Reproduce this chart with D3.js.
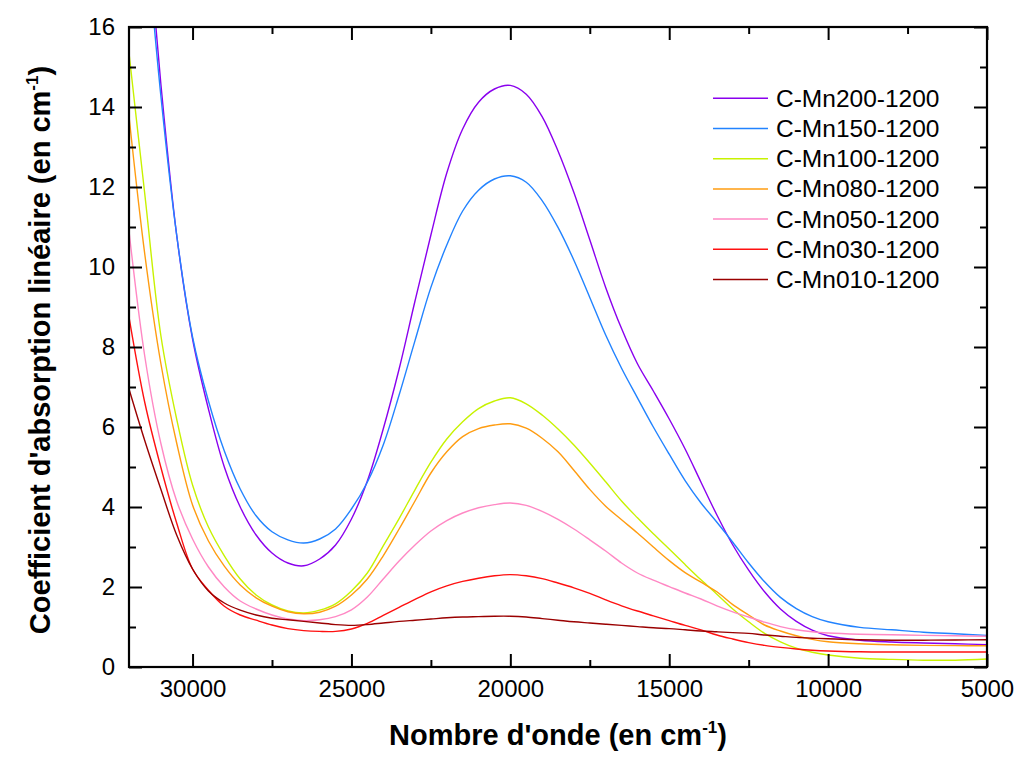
<!DOCTYPE html>
<html>
<head>
<meta charset="utf-8">
<script src="https://cdn.jsdelivr.net/npm/d3@7"></script>
<style>
  html, body { margin: 0; padding: 0; background: #fff; }
  svg { display: block; font-family: "Liberation Sans", Arial, sans-serif; }
</style>
</head>
<body>
<svg id="chart" width="1017" height="760"></svg>
<script>
const wavenumbers = [32000,31500,31000,30500,30000,29500,29000,28500,28000,27500,27000,26500,26000,25500,25000,24500,24000,23500,23000,22500,22000,21500,21000,20500,20000,19500,19000,18500,18000,17500,17000,16500,16000,15500,15000,14500,14000,13500,13000,12500,12000,11500,11000,10500,10000,9000,8000,7000,6000,5000];

const mn200 = [24.0,19.2,14.6,10.8,8.2,6.45,5.0,4.0,3.3,2.85,2.6,2.53,2.7,3.05,3.7,4.65,5.95,7.45,9.15,10.8,12.35,13.45,14.12,14.45,14.54,14.32,13.76,12.9,11.86,10.68,9.49,8.46,7.58,6.9,6.2,5.45,4.62,3.8,3.05,2.42,1.88,1.45,1.14,0.92,0.78,0.67,0.625,0.6,0.58,0.56];
const mn150 = [23.5,18.7,14.3,10.8,8.25,6.65,5.4,4.45,3.78,3.38,3.18,3.1,3.2,3.45,3.95,4.62,5.55,6.8,8.16,9.49,10.55,11.4,11.92,12.2,12.28,12.12,11.66,10.99,10.17,9.24,8.3,7.47,6.73,6.0,5.32,4.66,4.1,3.62,3.12,2.6,2.13,1.74,1.46,1.26,1.13,0.99,0.93,0.87,0.83,0.79];
const mn100 = [15.35,11.8,8.3,6.2,4.55,3.5,2.78,2.2,1.8,1.55,1.4,1.35,1.42,1.58,1.9,2.35,3.03,3.71,4.43,5.12,5.7,6.13,6.46,6.65,6.73,6.58,6.3,5.95,5.55,5.1,4.63,4.15,3.73,3.33,2.95,2.56,2.18,1.82,1.45,1.13,0.84,0.63,0.47,0.37,0.3,0.22,0.19,0.17,0.17,0.2];
const mn080 = [13.77,10.3,7.6,5.6,4.05,3.15,2.52,2.05,1.73,1.52,1.38,1.33,1.37,1.52,1.8,2.2,2.78,3.45,4.15,4.85,5.38,5.76,5.96,6.05,6.08,5.97,5.72,5.38,4.92,4.44,4.02,3.68,3.35,3.0,2.66,2.36,2.12,1.88,1.56,1.3,1.05,0.9,0.78,0.69,0.63,0.58,0.555,0.54,0.535,0.53];
const mn050 = [10.9,7.75,5.6,4.15,3.2,2.5,2.0,1.65,1.45,1.3,1.2,1.16,1.18,1.26,1.43,1.75,2.2,2.65,3.05,3.4,3.66,3.85,3.98,4.06,4.1,4.04,3.89,3.69,3.45,3.18,2.9,2.6,2.35,2.17,2.01,1.85,1.7,1.53,1.38,1.25,1.12,1.01,0.93,0.88,0.85,0.82,0.805,0.79,0.78,0.77];
const mn030 = [8.75,6.6,5.0,3.6,2.45,1.92,1.52,1.3,1.17,1.05,0.96,0.91,0.89,0.89,0.95,1.09,1.29,1.49,1.69,1.88,2.03,2.14,2.22,2.28,2.31,2.28,2.21,2.1,1.98,1.84,1.68,1.53,1.4,1.28,1.16,1.04,0.93,0.8,0.7,0.61,0.54,0.49,0.45,0.42,0.4,0.38,0.375,0.375,0.375,0.375];
const mn010 = [6.95,5.65,4.45,3.3,2.45,1.9,1.6,1.42,1.3,1.22,1.18,1.14,1.1,1.06,1.04,1.06,1.1,1.14,1.17,1.2,1.23,1.25,1.26,1.27,1.27,1.25,1.21,1.17,1.13,1.1,1.07,1.04,1.01,0.98,0.96,0.93,0.9,0.88,0.86,0.84,0.8,0.77,0.74,0.72,0.705,0.68,0.67,0.67,0.675,0.68];

const seriesNames = ["C-Mn200-1200","C-Mn150-1200","C-Mn100-1200","C-Mn080-1200","C-Mn050-1200","C-Mn030-1200","C-Mn010-1200"];
const seriesValues = [mn200, mn150, mn100, mn080, mn050, mn030, mn010];
const seriesColors = ["#8a00ee","#2283ff","#c8f200","#ff9c10","#ff88c4","#ff1010","#9a0000"];

const xMajorTicks = [30000,25000,20000,15000,10000,5000];
const xMinorTicks = [27500,22500,17500,12500,7500];
const yMajorTicks = [0,2,4,6,8,10,12,14,16];
const yMinorTicks = [1,3,5,7,9,11,13,15];

const xTitle = "Nombre d'onde (en cm";
const yTitle = "Coefficient d'absorption linéaire (en cm";

const L = 129, R = 987, T = 27, B = 667;
const svg = d3.select("#chart");

const x = d3.scaleLinear().domain([32000, 5000]).range([L, R]);
const y = d3.scaleLinear().domain([0, 16]).range([B, T]);

svg.append("defs").append("clipPath").attr("id", "plotclip")
  .append("rect").attr("x", L).attr("y", T).attr("width", R - L).attr("height", B - T);

// lines
const line = d3.line()
  .x(d => x(d[0]))
  .y(d => y(d[1]))
  .curve(d3.curveCatmullRom.alpha(0.5));

const gLines = svg.append("g").attr("clip-path", "url(#plotclip)");
seriesValues.forEach((vals, i) => {
  const pts = wavenumbers.map((w, j) => [w, vals[j]]);
  gLines.append("path")
    .attr("d", line(pts))
    .attr("fill", "none")
    .attr("stroke", seriesColors[i])
    .attr("stroke-width", 1.4);
});

// axes
function styleAxis(g) {
  g.select(".domain").remove();
  g.selectAll(".tick line").attr("stroke", "#000").attr("stroke-width", 2);
  g.selectAll("text").attr("fill", "#000").style("font-size", "24px")
    .style("font-family", "'Liberation Sans', Arial, sans-serif");
}

svg.append("g").attr("transform", `translate(0,${B})`)
  .call(d3.axisBottom(x).tickValues(xMajorTicks).tickSize(-13).tickPadding(13).tickFormat(d3.format("d")))
  .call(styleAxis);
svg.append("g").attr("transform", `translate(0,${B})`)
  .call(d3.axisBottom(x).tickValues(xMinorTicks).tickSize(-7).tickFormat(""))
  .call(styleAxis);
svg.append("g").attr("transform", `translate(0,${T})`)
  .call(d3.axisTop(x).tickValues(xMajorTicks).tickSize(-13).tickFormat(""))
  .call(styleAxis);
svg.append("g").attr("transform", `translate(0,${T})`)
  .call(d3.axisTop(x).tickValues(xMinorTicks).tickSize(-7).tickFormat(""))
  .call(styleAxis);

svg.append("g").attr("transform", `translate(${L},0)`)
  .call(d3.axisLeft(y).tickValues(yMajorTicks).tickSize(-13).tickPadding(14).tickFormat(d3.format("d")))
  .call(styleAxis);
svg.append("g").attr("transform", `translate(${L},0)`)
  .call(d3.axisLeft(y).tickValues(yMinorTicks).tickSize(-7).tickFormat(""))
  .call(styleAxis);
svg.append("g").attr("transform", `translate(${R},0)`)
  .call(d3.axisRight(y).tickValues(yMajorTicks).tickSize(-13).tickFormat(""))
  .call(styleAxis);
svg.append("g").attr("transform", `translate(${R},0)`)
  .call(d3.axisRight(y).tickValues(yMinorTicks).tickSize(-7).tickFormat(""))
  .call(styleAxis);

// frame
svg.append("rect")
  .attr("x", L).attr("y", T).attr("width", R - L).attr("height", B - T)
  .attr("fill", "none").attr("stroke", "#000").attr("stroke-width", 2.2);

// axis titles
const xt = svg.append("text")
  .attr("x", (L + R) / 2).attr("y", 745)
  .attr("text-anchor", "middle")
  .style("font-size", "29px").style("font-weight", "bold");
xt.append("tspan").text(xTitle);
xt.append("tspan").attr("dy", -12).style("font-size", "17px").text("-1");
xt.append("tspan").attr("dy", 12).text(")");

const yt = svg.append("text")
  .attr("transform", `translate(50,${(T + B) / 2 + 3}) rotate(-90)`)
  .attr("text-anchor", "middle")
  .style("font-size", "29px").style("font-weight", "bold");
yt.append("tspan").text(yTitle);
yt.append("tspan").attr("dy", -12).style("font-size", "17px").text("-1");
yt.append("tspan").attr("dy", 12).text(")");

// legend
const leg = svg.append("g");
seriesNames.forEach((name, i) => {
  const ly = 98.3 + i * 30.2;
  leg.append("line")
    .attr("x1", 713).attr("x2", 768).attr("y1", ly).attr("y2", ly)
    .attr("stroke", seriesColors[i]).attr("stroke-width", 1.5);
  leg.append("text")
    .attr("x", 776).attr("y", ly + 8.5)
    .style("font-size", "24.5px").attr("fill", "#000")
    .text(name);
});
</script>
</body>
</html>
